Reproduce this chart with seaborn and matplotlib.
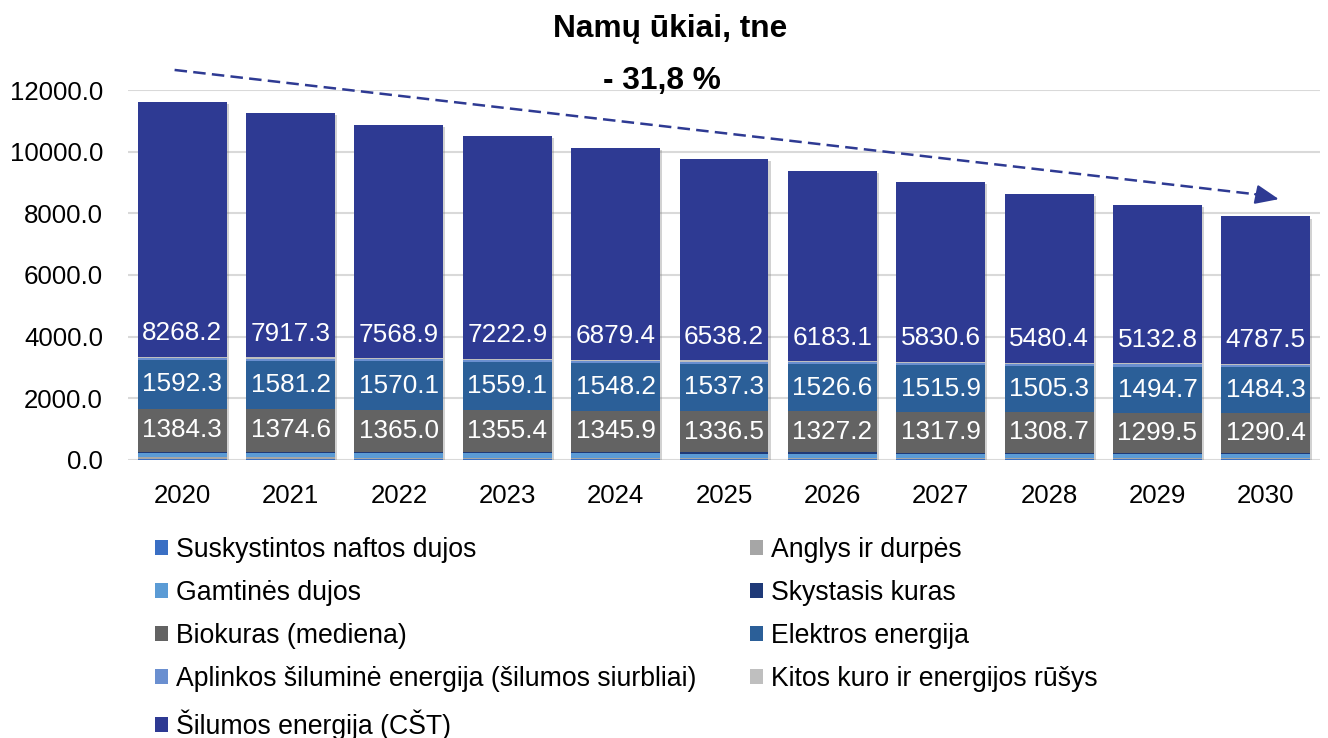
import numpy as np
import pandas as pd
import matplotlib
matplotlib.use("Agg")
import matplotlib.pyplot as plt
from matplotlib.patches import Patch
import matplotlib.patheffects as pe
import seaborn as sns

# Household final energy consumption by source, toe
years = ["2020", "2021", "2022", "2023", "2024", "2025", "2026", "2027", "2028", "2029", "2030"]

suskystintos = [40.0, 39.0, 38.0, 37.0, 36.0, 35.0, 34.0, 33.0, 32.0, 31.0, 30.0]
anglys = [45.0, 43.0, 42.0, 40.0, 39.0, 37.0, 36.0, 34.0, 33.0, 31.0, 30.0]
gamtines = [140.0, 139.0, 138.0, 137.0, 136.0, 135.0, 134.0, 133.0, 132.0, 131.0, 130.0]
skystasis = [50.0, 49.0, 48.0, 47.0, 46.0, 45.0, 44.0, 43.0, 42.0, 41.0, 40.0]
biokuras = [1384.3, 1374.6, 1365.0, 1355.4, 1345.9, 1336.5, 1327.2, 1317.9, 1308.7, 1299.5, 1290.4]
elektros = [1592.3, 1581.2, 1570.1, 1559.1, 1548.2, 1537.3, 1526.6, 1515.9, 1505.3, 1494.7, 1484.3]
aplinkos = [60.0, 62.0, 63.0, 65.0, 66.0, 68.0, 69.0, 71.0, 72.0, 74.0, 75.0]
kitos = [40.0, 39.0, 39.0, 38.0, 37.0, 36.0, 35.0, 34.0, 33.0, 32.0, 31.0]
silumos = [8268.2, 7917.3, 7568.9, 7222.9, 6879.4, 6538.2, 6183.1, 5830.6, 5480.4, 5132.8, 4787.5]

series = [
    ("Suskystintos naftos dujos", suskystintos, "#3A6FC4"),
    ("Anglys ir durpės", anglys, "#A6A6A6"),
    ("Gamtinės dujos", gamtines, "#5B9BD5"),
    ("Skystasis kuras", skystasis, "#1F3A78"),
    ("Biokuras (mediena)", biokuras, "#636363"),
    ("Elektros energija", elektros, "#2B5F98"),
    ("Aplinkos šiluminė energija (šilumos siurbliai)", aplinkos, "#6A8FD0"),
    ("Kitos kuro ir energijos rūšys", kitos, "#BFBFBF"),
    ("Šilumos energija (CŠT)", silumos, "#2E3A93"),
]
labelled = {"Biokuras (mediena)", "Elektros energija", "Šilumos energija (CŠT)"}

title = "Namų ūkiai, tne"
change_text = "- 31,8 %"
yticks = [0, 2000, 4000, 6000, 8000, 10000, 12000]

sns.set_theme(style="white")
plt.rcParams["font.family"] = ["Liberation Sans", "DejaVu Sans"]
plt.rcParams["text.color"] = "black"
plt.rcParams["axes.labelcolor"] = "black"

fig = plt.figure(figsize=(13.28, 7.38), dpi=100)
ax = fig.add_axes([128 / 1328, 1 - 460 / 738, 1192 / 1328, 370 / 738])

df = pd.DataFrame({name: vals for name, vals, _ in series}, index=years)
cum = df.cumsum(axis=1)
bottoms = cum.shift(1, axis=1).fillna(0.0)

# stacked bars: draw cumulative totals from the top layer down
shadow = [pe.SimplePatchShadow(offset=(1.5, -1.5), shadow_rgbFace="#808080", alpha=0.35),
          pe.Normal()]
for k, (name, _, color) in enumerate(reversed(series)):
    n_before = len(ax.patches)
    sns.barplot(x=years, y=cum[name].values, color=color, width=0.82,
                saturation=1, ax=ax, zorder=3, linewidth=0)
    if k == 0:
        for p in ax.patches[n_before:]:
            p.set_path_effects(shadow)

# value labels
for name, _, _ in series:
    if name not in labelled:
        continue
    for i, yr in enumerate(years):
        v = df.loc[yr, name]
        b = bottoms.loc[yr, name]
        if name == "Šilumos energija (CŠT)":
            ax.annotate(f"{v:.1f}", xy=(i, b), xytext=(0, 17), textcoords="offset points",
                        ha="center", va="center", color="white", fontsize=18.8, zorder=5)
        else:
            ax.text(i, b + v / 2, f"{v:.1f}", ha="center", va="center",
                    color="white", fontsize=18.8, zorder=5)

ax.set_ylim(0, 12000)
ax.set_xlim(-0.5, len(years) - 0.5)
ax.set_yticks(yticks)
ax.set_yticklabels([f"{t:.1f}" for t in yticks])
ax.yaxis.grid(True, color="#D9D9D9", linewidth=1.5, zorder=0)
ax.set_axisbelow(True)
for s in ax.spines.values():
    s.set_visible(False)
ax.tick_params(axis="both", length=0, labelsize=18.6, colors="black")
ax.tick_params(axis="y", pad=18)
ax.tick_params(axis="x", pad=17)
ax.set_xlabel("")
ax.set_ylabel("")

# trend arrow
arrow_color = "#2E3A93"
ax.plot([-0.07, 9.95], [12650, 8600], linestyle=(0, (5, 2.5)), color=arrow_color,
        linewidth=1.8, clip_on=False, zorder=6)
ax.annotate("", xy=(10.12, 8460), xytext=(9.9, 8620),
            arrowprops=dict(arrowstyle="-|>,head_length=1.2,head_width=0.5",
                            color=arrow_color, linewidth=1.5, shrinkA=0, shrinkB=0),
            annotation_clip=False, zorder=6)

fig.text(670 / 1328, 1 - 29 / 738, title, ha="center", va="center",
         fontsize=22.8, fontweight="bold", color="black")
fig.text(662 / 1328, 1 - 81 / 738, change_text, ha="center", va="center",
         fontsize=22.8, fontweight="bold", color="black")

# legend in two columns, filled row by row
handles = [Patch(facecolor=c, edgecolor="none", label=n) for n, _, c in series]
left = handles[0::2]
right = handles[1::2]
common = dict(frameon=False, fontsize=19.2, handlelength=0.47, handleheight=0.47,
              handletextpad=0.3, labelspacing=0.64, borderpad=0, borderaxespad=0,
              loc="upper left", labelcolor="black")
leg1 = fig.legend(handles=left, bbox_to_anchor=(155 / 1328, 1 - 537 / 738), **common)
leg2 = fig.legend(handles=right, bbox_to_anchor=(750 / 1328, 1 - 537 / 738), **common)

fig.savefig("out.png", dpi=100)
